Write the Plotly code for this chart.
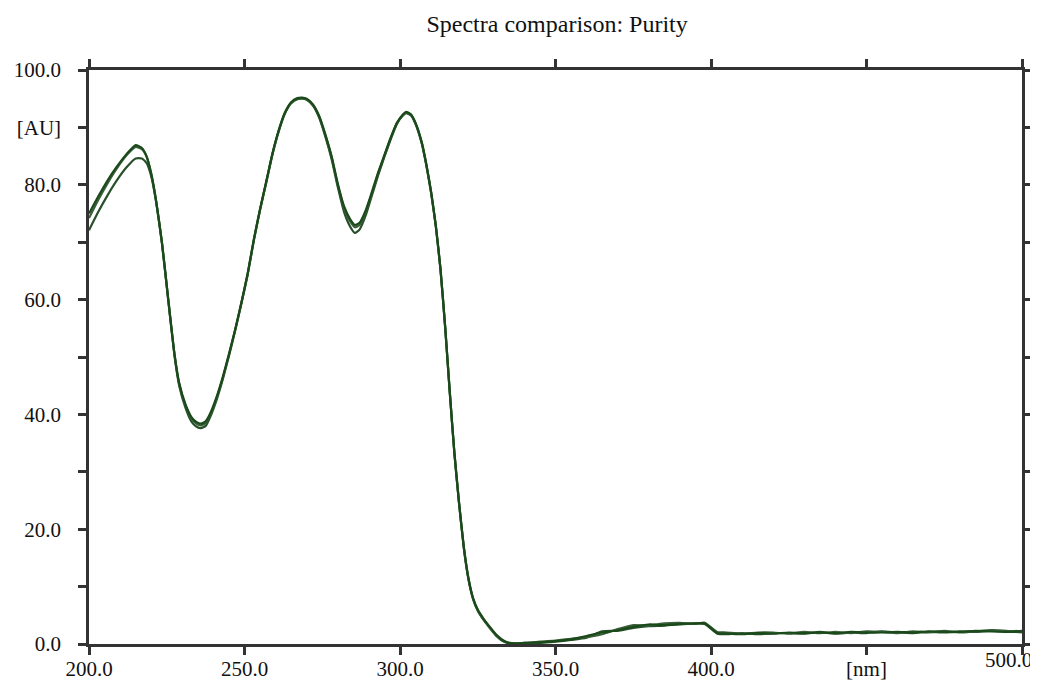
import plotly.graph_objects as go

# Wellenlaengen [nm]
wl = [200, 203, 206, 209, 212, 215, 217, 218.5, 220, 221.5, 223.5, 225.5, 227.5, 229, 231, 233, 234.5, 236,
      237.5, 239, 241, 243, 245, 247, 249, 251, 253, 255, 257, 259, 261, 263, 265, 267, 268.5, 270, 272, 274,
      276, 278, 280, 282, 284, 285.5, 287, 289, 291, 293, 295, 297, 299, 301, 302, 303.5, 305, 307, 308.5, 310,
      311.5, 313, 314.5, 316, 317.5, 319, 320.5, 322, 323.5, 325, 327, 329, 331, 333, 335, 337,
      340, 345, 350, 355, 360, 365, 370, 375, 380, 385, 390, 395, 398, 402, 405, 410, 415, 420, 425, 430,
      435, 440, 445, 450, 455, 460, 465, 470, 475, 480, 485, 490, 495, 500]

au_1 = [75.0, 78.0, 80.8, 83.2, 85.3, 86.9, 86.4, 85.0, 82.0, 77.5, 69.8, 60.0, 50.5, 45.5, 41.8, 39.5, 38.7, 38.4,
        38.8, 40.2, 43.0, 46.5, 50.5, 54.8, 59.5, 64.5, 70.5, 75.8, 80.6, 85.5, 89.5, 92.6, 94.4, 95.1, 95.2, 95.0, 94.0, 92.0,
        88.8, 85.0, 80.2, 76.3, 74.0, 73.0, 73.4, 75.6, 78.8, 82.2, 85.2, 88.2, 90.8, 92.3, 92.7, 92.3, 90.8, 87.4, 83.5, 78.8,
        73.0, 65.5, 55.5, 44.0, 33.3, 24.6, 17.0, 11.5, 8.0, 6.0, 4.3, 2.9, 1.6, 0.7, 0.2, 0.1,
        0.2, 0.3, 0.5, 0.8, 1.4, 2.0, 2.4, 3.0, 3.4, 3.3, 3.5, 3.6, 3.6, 1.9, 1.8, 1.7, 1.9, 1.8, 2.0, 1.9,
        2.0, 1.9, 2.1, 2.0, 2.0, 2.1, 2.0, 2.2, 2.1, 2.1, 2.3, 2.2, 2.1, 2.2]

au_2 = [74.2, 77.4, 80.3, 82.9, 85.1, 86.6, 86.2, 84.9, 81.9, 77.4, 69.7, 59.9, 50.4, 45.3, 41.6, 39.2, 38.4, 38.1,
        38.5, 40.0, 42.8, 46.3, 50.4, 54.7, 59.4, 64.4, 70.4, 75.7, 80.5, 85.4, 89.4, 92.5, 94.3, 95.0, 95.1, 94.9, 93.9, 91.9,
        88.6, 84.8, 80.0, 76.0, 73.6, 72.6, 73.0, 75.3, 78.6, 82.0, 85.1, 88.1, 90.7, 92.2, 92.6, 92.2, 90.7, 87.3, 83.4, 78.7,
        72.9, 65.4, 55.4, 43.9, 33.2, 24.5, 16.9, 11.4, 7.9, 5.9, 4.2, 2.8, 1.5, 0.6, 0.2, 0.1,
        0.1, 0.4, 0.6, 0.9, 1.2, 1.7, 2.6, 3.3, 3.2, 3.6, 3.7, 3.5, 3.7, 2.1, 2.0, 1.8, 2.0, 2.0, 1.8, 2.1,
        1.9, 2.1, 1.9, 2.2, 2.1, 1.9, 2.2, 2.0, 2.3, 2.0, 2.2, 2.4, 2.3, 2.0]

au_3 = [72.1, 75.3, 78.2, 80.8, 83.0, 84.6, 84.6, 83.8, 81.5, 77.3, 69.6, 59.8, 50.2, 45.0, 41.2, 38.7, 37.9, 37.6,
        38.0, 39.6, 42.5, 46.1, 50.2, 54.6, 59.3, 64.3, 70.3, 75.6, 80.4, 85.3, 89.3, 92.4, 94.2, 94.9, 95.0, 94.8, 93.8, 91.7,
        88.4, 84.5, 79.6, 75.3, 72.7, 71.6, 72.2, 74.7, 78.2, 81.7, 84.9, 87.9, 90.6, 92.1, 92.5, 92.1, 90.6, 87.2, 83.3, 78.6,
        72.8, 65.3, 55.3, 43.8, 33.1, 24.4, 16.8, 11.3, 7.8, 5.8, 4.1, 2.7, 1.4, 0.5, 0.1, 0.0,
        0.2, 0.2, 0.4, 0.7, 1.1, 2.2, 2.3, 2.8, 3.1, 3.2, 3.4, 3.6, 3.5, 1.8, 1.7, 1.9, 1.7, 1.9, 1.9, 1.8,
        2.1, 1.8, 2.0, 1.9, 2.2, 2.0, 1.9, 2.1, 2.0, 2.2, 2.1, 2.3, 2.2, 2.3]

y_ticks = [0, 10, 20, 30, 40, 50, 60, 70, 80, 90, 100]
y_labels = ["0.0", "", "20.0", "", "40.0", "", "60.0", "", "80.0", "[AU]", "100.0"]
x_ticks = [200, 250, 300, 350, 400, 450, 500]
x_labels = ["200.0", "250.0", "300.0", "350.0", "400.0", "[nm]", ""]
# letztes Label separat, etwas nach links geschoben (sonst abgeschnitten)
x_end_tick = 500
x_end_label = "500.0"

fig = go.Figure()
for au, col in [(au_3, "#27502a"), (au_2, "#3b5e3b"), (au_1, "#1a4a1a")]:
	fig.add_trace(go.Scatter(x=wl, y=au, mode="lines", line=dict(color=col, width=2.2, shape="spline", smoothing=0.5),
		showlegend=False))

achse = dict(showline=True, linecolor="#333333", linewidth=2.5, mirror="allticks", automargin=False,
	ticks="outside", ticklen=8, tickwidth=2.5, tickcolor="#333333", showgrid=False, zeroline=False,
	ticklabeloverflow="allow")

fig.update_xaxes(range=[200, 500], tickvals=x_ticks, ticktext=x_labels, ticklabelstandoff=-4, **achse)
fig.update_yaxes(range=[0, 100], tickvals=y_ticks, ticktext=y_labels, ticklabelstandoff=13, **achse)

fig.add_annotation(x=x_end_tick, xref="x", y=0, yref="paper", text=x_end_label, showarrow=False,
	xanchor="center", yanchor="middle", xshift=-14, yshift=-16,
	font=dict(family="Liberation Serif", size=21, color="#111111"))

# Seite hat 8px Body-Rand, daher alles um 8px verschoben
fig.update_layout(
	width=1038, height=691,
	margin=dict(l=81, r=24, t=62, b=55),
	paper_bgcolor="white", plot_bgcolor="white",
	font=dict(family="Liberation Serif", size=21, color="#111111"),
	title=dict(text="Spectra comparison: Purity", x=0.529, xanchor="center", y=0.978, yanchor="middle",
		font=dict(family="Liberation Serif", size=24, color="#111111")),
)

fig.write_html("out.html")
